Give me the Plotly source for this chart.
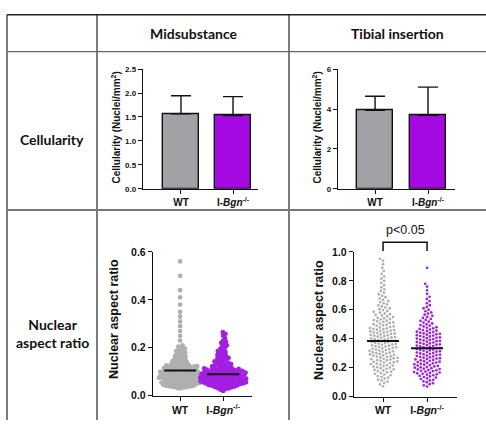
import math
import plotly.graph_objects as go

W, H = 486, 426


def fx(p):
    return p / W


def fy(p):
    return 1 - p / H


# ---------------- data ----------------
groups = ["WT", "I-<i>Bgn</i><sup>-/-</sup>"]
col_headers = ["Midsubstance", "Tibial insertion"]
row_headers = ["Cellularity", "Nuclear<br>aspect ratio"]

cell_mid_mean = [1.565, 1.53]
cell_mid_sd = [0.38, 0.395]
cell_tib_mean = [3.93, 3.68]
cell_tib_sd = [0.71, 1.42]

nar_mid_center = [0.105, 0.09]
nar_tib_center = [0.385, 0.335]
p_label = "p<0.05"

nar_mid_wt = [
    0.030, 0.032, 0.034, 0.035, 0.036, 0.037, 0.038, 0.039, 0.040, 0.041, 0.042, 0.043,
    0.044, 0.045, 0.046, 0.047, 0.048, 0.049, 0.050, 0.050, 0.051, 0.052, 0.053, 0.054,
    0.055, 0.055, 0.056, 0.057, 0.058, 0.059, 0.060, 0.060, 0.061, 0.062, 0.063, 0.064,
    0.065, 0.066, 0.067, 0.068, 0.069, 0.070, 0.070, 0.071, 0.072, 0.073, 0.074, 0.075,
    0.075, 0.076, 0.077, 0.078, 0.079, 0.080, 0.080, 0.081, 0.082, 0.083, 0.084, 0.085,
    0.085, 0.086, 0.087, 0.088, 0.089, 0.090, 0.090, 0.091, 0.092, 0.093, 0.094, 0.095,
    0.095, 0.096, 0.097, 0.098, 0.099, 0.100, 0.100, 0.101, 0.102, 0.103, 0.104, 0.105,
    0.106, 0.107, 0.108, 0.109, 0.110, 0.111, 0.112, 0.113, 0.114, 0.115, 0.116, 0.117,
    0.118, 0.119, 0.120, 0.121, 0.122, 0.123, 0.124, 0.125, 0.126, 0.127, 0.128, 0.130,
    0.132, 0.134, 0.136, 0.138, 0.140, 0.142, 0.144, 0.146, 0.148, 0.150, 0.152, 0.155,
    0.158, 0.160, 0.163, 0.166, 0.170, 0.173, 0.176, 0.180, 0.183, 0.186, 0.190, 0.193,
    0.196, 0.200, 0.205, 0.210, 0.230, 0.250, 0.270, 0.290, 0.310, 0.330, 0.350, 0.380,
    0.410, 0.440, 0.500, 0.560,
]

nar_mid_ko = [
    0.020, 0.025, 0.028, 0.030, 0.032, 0.034, 0.035, 0.036, 0.038, 0.040, 0.041, 0.042,
    0.043, 0.044, 0.045, 0.046, 0.047, 0.048, 0.049, 0.050, 0.050, 0.051, 0.052, 0.053,
    0.054, 0.055, 0.055, 0.056, 0.057, 0.058, 0.059, 0.060, 0.060, 0.061, 0.062, 0.063,
    0.064, 0.065, 0.065, 0.066, 0.067, 0.068, 0.069, 0.070, 0.070, 0.071, 0.072, 0.073,
    0.074, 0.075, 0.075, 0.076, 0.077, 0.078, 0.079, 0.080, 0.080, 0.081, 0.082, 0.083,
    0.084, 0.085, 0.085, 0.086, 0.087, 0.088, 0.089, 0.090, 0.090, 0.091, 0.092, 0.093,
    0.094, 0.095, 0.095, 0.096, 0.097, 0.098, 0.099, 0.100, 0.100, 0.101, 0.102, 0.103,
    0.104, 0.105, 0.106, 0.107, 0.108, 0.109, 0.110, 0.111, 0.112, 0.113, 0.114, 0.115,
    0.116, 0.118, 0.120, 0.122, 0.124, 0.126, 0.128, 0.130, 0.132, 0.134, 0.136, 0.138,
    0.140, 0.143, 0.146, 0.149, 0.152, 0.155, 0.158, 0.161, 0.164, 0.167, 0.170, 0.174,
    0.178, 0.182, 0.186, 0.190, 0.195, 0.200, 0.205, 0.210, 0.215, 0.220, 0.225, 0.230,
    0.240, 0.250, 0.258, 0.265,
]

nar_tib_wt = [
    0.072, 0.085, 0.095, 0.104, 0.112, 0.118, 0.125, 0.131, 0.137, 0.142, 0.148, 0.153,
    0.158, 0.163, 0.168, 0.172, 0.176, 0.181, 0.185, 0.189, 0.193, 0.197, 0.200, 0.204,
    0.208, 0.211, 0.215, 0.218, 0.222, 0.225, 0.228, 0.232, 0.235, 0.238, 0.241, 0.244,
    0.247, 0.250, 0.253, 0.256, 0.259, 0.262, 0.265, 0.268, 0.271, 0.274, 0.277, 0.280,
    0.283, 0.286, 0.289, 0.292, 0.295, 0.298, 0.301, 0.304, 0.307, 0.310, 0.313, 0.316,
    0.319, 0.322, 0.325, 0.328, 0.331, 0.334, 0.337, 0.340, 0.343, 0.346, 0.349, 0.352,
    0.355, 0.358, 0.361, 0.364, 0.367, 0.370, 0.373, 0.376, 0.379, 0.382, 0.385, 0.388,
    0.391, 0.394, 0.397, 0.400, 0.403, 0.406, 0.409, 0.412, 0.415, 0.418, 0.421, 0.424,
    0.427, 0.430, 0.433, 0.436, 0.439, 0.442, 0.445, 0.448, 0.451, 0.454, 0.457, 0.460,
    0.463, 0.466, 0.469, 0.472, 0.475, 0.478, 0.481, 0.485, 0.489, 0.493, 0.497, 0.501,
    0.505, 0.509, 0.513, 0.517, 0.521, 0.525, 0.529, 0.533, 0.537, 0.541, 0.545, 0.550,
    0.555, 0.560, 0.565, 0.570, 0.575, 0.580, 0.586, 0.592, 0.598, 0.604, 0.610, 0.617,
    0.624, 0.631, 0.638, 0.645, 0.653, 0.661, 0.669, 0.678, 0.687, 0.697, 0.707, 0.718,
    0.730, 0.742, 0.755, 0.770, 0.785, 0.800, 0.815, 0.830, 0.848, 0.868, 0.890, 0.915,
    0.940, 0.952,
]

nar_tib_ko = [
    0.070, 0.078, 0.086, 0.093, 0.100, 0.106, 0.112, 0.117, 0.122, 0.127, 0.132, 0.136,
    0.140, 0.144, 0.148, 0.152, 0.155, 0.158, 0.161, 0.164, 0.167, 0.170, 0.173, 0.176,
    0.179, 0.182, 0.185, 0.188, 0.191, 0.194, 0.197, 0.200, 0.203, 0.206, 0.209, 0.212,
    0.215, 0.218, 0.221, 0.224, 0.227, 0.230, 0.233, 0.236, 0.239, 0.242, 0.245, 0.248,
    0.251, 0.254, 0.257, 0.260, 0.263, 0.266, 0.269, 0.272, 0.275, 0.278, 0.281, 0.284,
    0.287, 0.290, 0.293, 0.296, 0.299, 0.302, 0.305, 0.308, 0.311, 0.314, 0.317, 0.320,
    0.323, 0.326, 0.329, 0.332, 0.335, 0.338, 0.341, 0.344, 0.347, 0.350, 0.353, 0.356,
    0.359, 0.362, 0.365, 0.368, 0.371, 0.374, 0.377, 0.380, 0.383, 0.386, 0.389, 0.392,
    0.395, 0.398, 0.401, 0.404, 0.407, 0.410, 0.413, 0.416, 0.419, 0.422, 0.425, 0.428,
    0.431, 0.434, 0.437, 0.440, 0.443, 0.446, 0.449, 0.452, 0.456, 0.460, 0.464, 0.468,
    0.472, 0.476, 0.480, 0.485, 0.490, 0.495, 0.500, 0.506, 0.512, 0.518, 0.524, 0.530,
    0.537, 0.544, 0.551, 0.558, 0.566, 0.574, 0.582, 0.590, 0.600, 0.610, 0.620, 0.632,
    0.645, 0.660, 0.675, 0.690, 0.710, 0.735, 0.760, 0.780, 0.890,
]

# ---------------- style ----------------
GRAY_BAR = "#a2a2a6"
PURPLE_BAR = "#a60ae3"
GRAY_PT = "#afafaf"
PURPLE_PT = "#a21ee0"
ARIAL = "Liberation Sans, Arial, sans-serif"
TABLE_FONT = "Lato"

# subplot geometry in pixels: (x0, x1), (ytop, ybottom), x range, y range
GEOM = {
    "": ((143, 258), (65, 188), [-0.73, 1.48], [0, 2.5]),
    "2": ((338, 455), (65, 188), [-0.70, 1.51], [0, 6]),
    "3": ((153, 252), (253, 401), [-0.63, 1.67], [0, 0.6]),
    "4": ((354, 457), (253, 402), [-0.66, 1.68], [0, 1.0]),
}


def px_per_unit(suffix):
    (x0, x1), (yt, yb), xr, yr = GEOM[suffix]
    return (x1 - x0) / (xr[1] - xr[0]), (yb - yt) / (yr[1] - yr[0])


def swarm_offsets(vals, ypu, d):
    """Beeswarm layout: horizontal offsets (px) so that points keep distance d."""
    order = sorted(range(len(vals)), key=lambda k: vals[k])
    placed = []
    offs = [0.0] * len(vals)
    for k in order:
        y = vals[k] * ypu
        near = [(px, py) for px, py in placed if abs(py - y) < d]
        forb = []
        for px, py in near:
            w = math.sqrt(d * d - (py - y) ** 2)
            forb.append((px - w, px + w))
        cands = [0.0] + [a for a, b in forb] + [b for a, b in forb]
        cands.sort(key=lambda c: (abs(c), c))
        best = 0.0
        for c in cands:
            if all(not (a + 1e-9 < c < b - 1e-9) for a, b in forb):
                best = c
                break
        placed.append((best, y))
        offs[k] = best
    return offs


fig = go.Figure()

# ---- bar charts ----
for ax, means, sds in [("", cell_mid_mean, cell_mid_sd), ("2", cell_tib_mean, cell_tib_sd)]:
    fig.add_trace(go.Bar(
        x=[0, 1], y=means, width=0.68,
        marker=dict(color=[GRAY_BAR, PURPLE_BAR], line=dict(color="#111", width=1.4)),
        error_y=dict(type="data", array=sds, arrayminus=[0, 0], symmetric=False,
                     color="#111", thickness=1.4, width=10),
        xaxis="x" + ax, yaxis="y" + ax, showlegend=False, hoverinfo="skip",
    ))

# ---- dot plots (beeswarm) ----
scatter_sets = [
    ("3", [nar_mid_wt, nar_mid_ko], nar_mid_center, [2.9, 3.1], 4.7),
    ("4", [nar_tib_wt, nar_tib_ko], nar_tib_center, [3.6, 3.5], 2.7),
]
for ax, sets, centers, dists, msize in scatter_sets:
    xpu, ypu = px_per_unit(ax)
    for i, (vals, col) in enumerate(zip(sets, [GRAY_PT, PURPLE_PT])):
        offs = swarm_offsets(vals, ypu, dists[i])
        fig.add_trace(go.Scatter(
            x=[i + o / xpu for o in offs], y=vals, mode="markers",
            marker=dict(color=col, size=msize, line=dict(width=0)),
            xaxis="x" + ax, yaxis="y" + ax, showlegend=False, hoverinfo="skip",
        ))
    for i, m in enumerate(centers):
        fig.add_trace(go.Scatter(
            x=[i - 16 / xpu, i + 16 / xpu], y=[m, m], mode="lines",
            line=dict(color="#111", width=2),
            xaxis="x" + ax, yaxis="y" + ax, showlegend=False, hoverinfo="skip",
        ))


# ---- axes ----
def axes(suffix, dtick, fmt, ysize, xsize):
    (x0, x1), (yt, yb), xr, yr = GEOM[suffix]
    common = dict(showline=True, linecolor="#111", linewidth=1.4, ticks="outside",
                  ticklen=4, tickwidth=1.4, tickcolor="#111", showgrid=False,
                  zeroline=False, fixedrange=True)
    fig.update_layout({
        "xaxis" + suffix: dict(domain=[fx(x0), fx(x1)], range=xr, tickvals=[0, 1],
                               ticktext=groups, anchor="y" + suffix,
                               tickfont=dict(family=ARIAL, size=xsize, color="#111", weight="bold"),
                               **common),
        "yaxis" + suffix: dict(domain=[fy(yb), fy(yt)], range=yr, dtick=dtick, tick0=0,
                               tickformat=fmt, anchor="x" + suffix,
                               tickfont=dict(family=ARIAL, size=ysize, color="#111", weight="bold"),
                               **common),
    })


axes("", 0.5, ".1f", 8, 10)
axes("2", 2, "d", 8, 10)
axes("3", 0.2, ".1f", 10.5, 10.5)
axes("4", 0.2, ".1f", 10.5, 10.5)

annotations = []
# axis titles
for x, y, txt, size in [
    (116, 125, "Cellularity (Nuclei/mm<sup>2</sup>)", 10),
    (317, 125, "Cellularity (Nuclei/mm<sup>2</sup>)", 10),
    (114, 322, "Nuclear aspect ratio", 12.5),
    (319, 323, "Nuclear aspect ratio", 12.5),
]:
    annotations.append(dict(x=fx(x), y=fy(y), xref="paper", yref="paper", text=txt,
                            textangle=-90, showarrow=False, xanchor="center", yanchor="middle",
                            font=dict(family=ARIAL, size=size, color="#111", weight="bold")))

# table headers
for x, y, txt in [(194, 28, col_headers[0]), (397, 28, col_headers[1]),
                  (52, 137, row_headers[0]), (52, 337, row_headers[1])]:
    annotations.append(dict(x=fx(x), y=fy(y), xref="paper", yref="paper", text=txt,
                            showarrow=False, xanchor="center", yanchor="middle",
                            font=dict(family=TABLE_FONT, size=14, color="#111", weight="bold")))

# p-value
annotations.append(dict(x=0.5, y=fy(231), xref="x4", yref="paper", text=p_label,
                        showarrow=False, xanchor="center", yanchor="middle",
                        font=dict(family=ARIAL, size=12.5, color="#111")))

shapes = []
# bracket
shapes.append(dict(type="path", xref="x4", yref="paper",
                   path=f"M 0,{fy(252)} L 0,{fy(243)} L 1,{fy(243)} L 1,{fy(252)}",
                   line=dict(color="#111", width=1.5)))
# table lines
for x in [7, 97, 289]:
    shapes.append(dict(type="line", xref="paper", yref="paper", x0=fx(x), x1=fx(x),
                       y0=fy(9), y1=0, line=dict(color="#222", width=1.2)))
for y, col, w in [(9, "#222", 1.3), (47, "#666", 1.3), (210, "#777", 2)]:
    shapes.append(dict(type="line", xref="paper", yref="paper", x0=fx(7), x1=1,
                       y0=fy(y), y1=fy(y), line=dict(color=col, width=w)))

fig.update_layout(
    width=W, height=H, autosize=False,
    margin=dict(l=0, r=0, t=0, b=0, pad=0),
    paper_bgcolor="white", plot_bgcolor="white",
    annotations=annotations, shapes=shapes,
    bargap=0, showlegend=False,
)

fig.write_html("out.html")
